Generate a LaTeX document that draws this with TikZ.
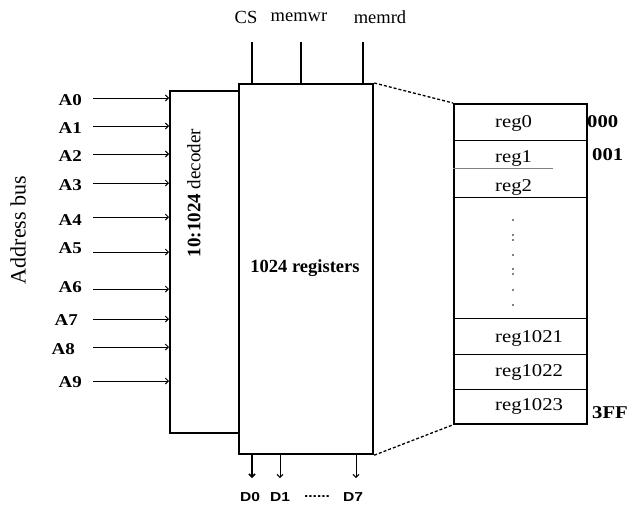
\documentclass[tikz,border=0pt]{standalone}
\usepackage{fontspec}
\setmainfont{Liberation Serif}
\newfontfamily\wserif[FakeStretch=1.15]{Liberation Serif}
\newfontfamily\wsans[FakeStretch=1.2]{Liberation Sans}
\usetikzlibrary{arrows.meta}
\newcommand\fsz[1]{\fontsize{#1pt}{#1pt}\selectfont}
\begin{document}
\begin{tikzpicture}[x=1pt,y=-1pt,
  box/.style={draw, line width=2.2pt, inner sep=0pt, anchor=north west},
  inarr/.style={line width=0.9pt, -{Straight Barb[length=3pt,width=6pt]}},
  outarr/.style={line width=0.9pt, -{Straight Barb[length=3pt,width=6pt]}},
  ctl/.style={line width=1.8pt},
  alab/.style={anchor=east, inner sep=0pt, font=\wserif\bfseries\fsz{16.5}},
  rlab/.style={anchor=west, inner sep=0pt, font=\wserif\fsz{18}},
  addr/.style={anchor=west, inner sep=0pt, font=\wserif\bfseries\fsz{18}},
  clab/.style={inner sep=0pt, font=\fsz{18.5}},
  dlab/.style={inner sep=0pt, font=\wsans\bfseries\fsz{13}},
  rowline/.style={line width=0.8pt},
  zoomline/.style={line width=1.3pt, densely dashed}]
\fill[white] (0,0) rectangle (627,506);
\useasboundingbox (0,0) rectangle (627,506);

% boxes
\node[box, minimum width=69pt, minimum height=342pt] (dec) at (169,90) {};
\node[box, minimum width=134pt, minimum height=370pt] (reg) at (238,83) {};
\node[box, line width=1.8pt, minimum width=133pt, minimum height=320pt] (tab) at (453,103) {};

% box texts
\node[rotate=90, inner sep=0pt, font=\fsz{19}] (dect) at (194,193) {\textbf{10:1024} decoder};
\node[inner sep=0pt, font=\bfseries\fsz{18.5}] (regt) at (305,268) {1024 registers};
\node[rotate=90, inner sep=0pt, font=\fsz{22}] (abus) at (18,230) {Address bus};

% address inputs
\foreach \i/\lx/\ly/\ay in {0/82/100/98, 1/82/128/126, 2/82/156/154, 3/82/185/183,
    4/82/220/217, 5/82/248/252, 6/82/287/289, 7/78/320/319, 8/75/349/347, 9/82/382/381} {
  \node[alab] (a\i) at (\lx,\ly) {A\i};
  \coordinate (as\i) at (93,\ay);
  \draw[inarr] (as\i) -- (dec.west |- as\i);
}

% control lines
\node[clab] (cs) at (246,17) {CS};
\node[clab] (memwr) at (299,17) {memwr};
\node[clab] (memrd) at (380,17) {memrd};
\coordinate (csc) at (252,42);
\coordinate (wrc) at (301,42);
\coordinate (rdc) at (363,42);
\draw[ctl] (csc) -- (reg.north -| csc);
\draw[ctl] (wrc) -- (reg.north -| wrc);
\draw[ctl, line width=2.2pt] (rdc) -- (reg.north -| rdc);

% data outputs
\coordinate (d0e) at (252,478);
\coordinate (d1e) at (280,478);
\coordinate (d7e) at (356,478);
\draw[outarr, line width=1.5pt] (reg.south -| d0e) -- (d0e);
\draw[outarr] (reg.south -| d1e) -- (d1e);
\draw[outarr] (reg.south -| d7e) -- (d7e);
\node[dlab] (d0) at (250,497) {D0};
\node[dlab] (d1) at (280,497) {D1};
\node[dlab] (ddots) at (317,497) {......};
\node[dlab] (d7) at (353,497) {D7};

% zoom lines
\draw[zoomline] (reg.north east) -- (tab.north west);
\draw[zoomline] (reg.south east) -- (tab.south west);

% table rows
\draw[rowline] (tab.west |- 0,140) -- (tab.east |- 0,140);
\draw[rowline, gray] (tab.west |- 0,168) -- (553,168);
\draw[rowline] (tab.west |- 0,197) -- (tab.east |- 0,197);
\draw[rowline] (tab.west |- 0,318) -- (tab.east |- 0,318);
\draw[rowline] (tab.west |- 0,354) -- (tab.east |- 0,354);
\draw[rowline] (tab.west |- 0,389) -- (tab.east |- 0,389);

\node[rlab] (r0) at (495,123) {reg0};
\node[rlab] (r1) at (495,158) {reg1};
\node[rlab] (r2) at (495,187) {reg2};
\node[rlab] (r1021) at (495,338) {reg1021};
\node[rlab] (r1022) at (495,372) {reg1022};
\node[rlab] (r1023) at (495,406) {reg1023};

\foreach \y in {220,235,240,255,269,274,290,305}
  \fill (513,\y) circle (0.9pt);

\node[addr] (x000) at (587,122) {000};
\node[addr] (x001) at (592,155) {001};
\node[addr] (x3ff) at (592,413) {3FF};
\end{tikzpicture}
\end{document}
